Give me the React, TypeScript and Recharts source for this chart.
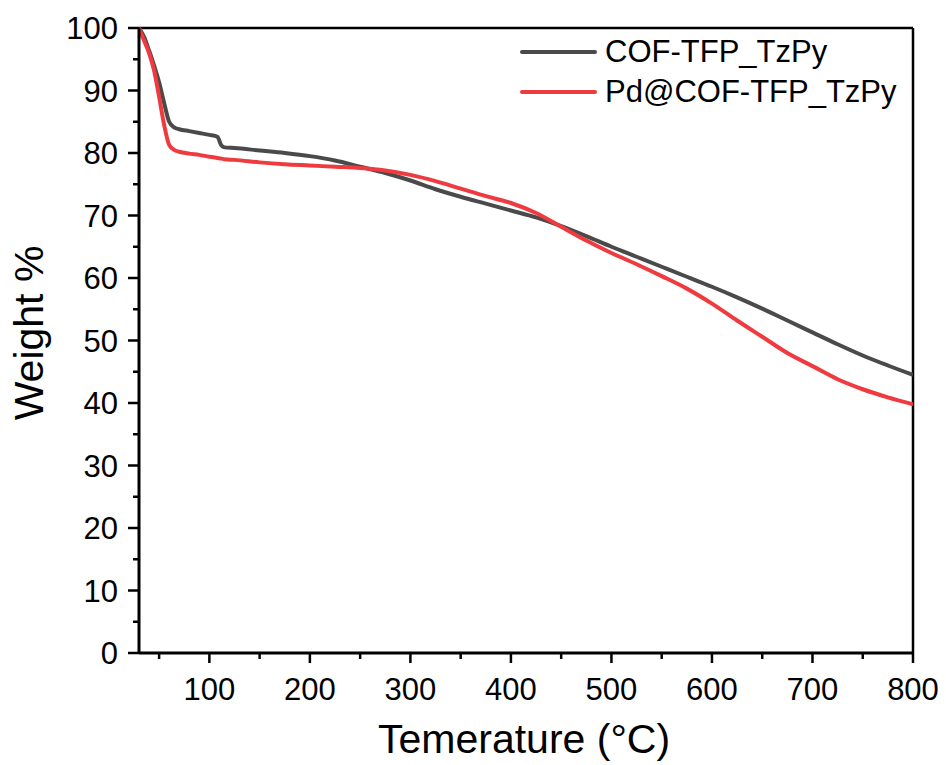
import { LineChart, Line, XAxis, YAxis, ReferenceLine } from "recharts";

const temps = [
  30, 35, 40, 45, 50, 55, 60, 65, 70, 80, 90, 100, 108, 112, 115, 125, 150, 175, 200, 225, 250, 275, 300,
  325, 350, 375, 400, 425, 450, 475, 500, 525, 550, 575, 600, 625, 650, 675, 700, 725, 750, 775, 800,
];

const cofWeight = [
  100, 98.6, 96.4, 94.0, 91.3, 88.0, 85, 84.1, 83.8, 83.5, 83.2, 82.9, 82.6, 81.2, 80.9, 80.8, 80.4, 80.0,
  79.5, 78.8, 77.8, 76.8, 75.6, 74.2, 73.0, 71.9, 70.8, 69.7, 68.3, 66.7, 65.0, 63.4, 61.8, 60.2, 58.6,
  56.9, 55.1, 53.2, 51.3, 49.4, 47.6, 46.0, 44.5,
];

const pdWeight = [
  100, 98.0, 96.0, 93.2, 89.0, 84.5, 81.3, 80.5, 80.2, 79.9, 79.7, 79.4, 79.2, 79.1, 79.0, 78.9, 78.5,
  78.2, 78.0, 77.8, 77.6, 77.2, 76.5, 75.5, 74.3, 73.1, 72.0, 70.4, 68.2, 66.0, 64.0, 62.2, 60.3, 58.3,
  55.9, 53.2, 50.6, 48.0, 45.9, 43.8, 42.2, 40.9, 39.8,
];

const seriesNames = ["COF-TFP_TzPy", "Pd@COF-TFP_TzPy"];
const seriesColors = ["#4a4a4a", "#ef3b40"];

const xTicks = [50, 100, 150, 200, 250, 300, 350, 400, 450, 500, 550, 600, 650, 700, 750, 800];
const yTicks = [0, 5, 10, 15, 20, 25, 30, 35, 40, 45, 50, 55, 60, 65, 70, 75, 80, 85, 90, 95, 100];

const data = temps.map((t, i) => ({ t, cof: cofWeight[i], pd: pdWeight[i] }));

const FONT = "'Liberation Sans', Arial, sans-serif";

const XTick = (props: any) => {
  const { x, y, payload } = props;
  const major = payload.value % 100 === 0;
  return (
    <g>
      <line x1={x} x2={x} y1={y} y2={y + (major ? 10 : 6)} stroke="#000" strokeWidth={2.5} />
      {major && (
        <text x={x} y={y + 47} textAnchor="middle" fontSize={31} fontFamily={FONT} fill="#000">
          {payload.value}
        </text>
      )}
    </g>
  );
};

const YTick = (props: any) => {
  const { x, y, payload } = props;
  const major = payload.value % 10 === 0;
  return (
    <g>
      <line x1={x} x2={x - (major ? 11 : 6)} y1={y} y2={y} stroke="#000" strokeWidth={2.5} />
      {major && (
        <text x={x - 21} y={y + 11} textAnchor="end" fontSize={31} fontFamily={FONT} fill="#000">
          {payload.value}
        </text>
      )}
    </g>
  );
};

export default function App() {
  return (
    <div style={{ position: "relative", width: 946, height: 765, background: "#fff" }}>
      <style>{`body{margin:0}`}</style>
      <LineChart width={946} height={765} data={data} margin={{ top: 28, right: 33, left: 0, bottom: 0 }}>
        <XAxis
          dataKey="t"
          type="number"
          domain={[30, 800]}
          ticks={xTicks}
          interval={0}
          height={112}
          tickSize={0}
          tickMargin={0}
          tickLine={false}
          tick={<XTick />}
          axisLine={{ stroke: "#000", strokeWidth: 3 }}
          allowDataOverflow
        />
        <YAxis
          type="number"
          domain={[0, 100]}
          ticks={yTicks}
          interval={0}
          width={139}
          tickSize={0}
          tickMargin={0}
          tickLine={false}
          tick={<YTick />}
          axisLine={{ stroke: "#000", strokeWidth: 3 }}
        />
        <ReferenceLine y={100} stroke="#000" strokeWidth={2.5} />
        <ReferenceLine x={800} stroke="#000" strokeWidth={2.5} />
        <Line
          dataKey="cof"
          name={seriesNames[0]}
          type="monotone"
          stroke={seriesColors[0]}
          strokeWidth={4}
          dot={false}
          isAnimationActive={false}
        />
        <Line
          dataKey="pd"
          name={seriesNames[1]}
          type="monotone"
          stroke={seriesColors[1]}
          strokeWidth={4}
          dot={false}
          isAnimationActive={false}
        />
      </LineChart>

      {/* legend */}
      <div style={{ position: "absolute", top: 32, left: 520, fontFamily: FONT, fontSize: 31, color: "#000" }}>
        {seriesNames.map((name, i) => (
          <div key={name} style={{ display: "flex", alignItems: "center", height: 40 }}>
            <div style={{ width: 77, height: 4, borderRadius: 2, background: seriesColors[i], marginRight: 8 }} />
            <span style={{ whiteSpace: "nowrap" }}>{name}</span>
          </div>
        ))}
      </div>

      {/* axis titles */}
      <div
        style={{
          position: "absolute",
          left: 378,
          top: 716,
          fontFamily: FONT,
          fontSize: 41,
          whiteSpace: "nowrap",
          color: "#000",
        }}
      >
        Temerature (°C)
      </div>
      <div
        style={{
          position: "absolute",
          left: 29,
          top: 333,
          transform: "translate(-50%, -50%) rotate(-90deg)",
          fontFamily: FONT,
          fontSize: 41,
          whiteSpace: "nowrap",
          color: "#000",
        }}
      >
        Weight %
      </div>
    </div>
  );
}
